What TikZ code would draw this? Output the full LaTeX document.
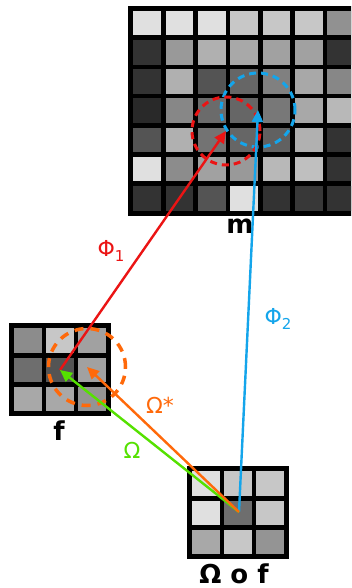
\documentclass[tikz,border=0pt]{standalone}
\usepackage{fontspec}
\setmainfont{DejaVu Sans}
\usetikzlibrary{arrows.meta}
\definecolor{cred}{RGB}{235,20,20}
\definecolor{cblue}{RGB}{20,165,235}
\definecolor{corange}{RGB}{255,105,10}
\definecolor{cgreen}{RGB}{85,225,0}
\newcommand\mygrid[5]{% #1 x0, #2 y0, #3 ncols, #4 nrows, #5 rows of whiteness
  \fill[black] (#1-2.6,#2-2.6) rectangle (#1+32.3*#3+2.6,#2+29.2*#4+2.6);
  \foreach \rw [count=\r from 0] in {#5} {
    \foreach \g [count=\c from 0] in \rw {
      \fill[white!\g!black] (#1+32.3*\c+2.3,#2+29.2*\r+2.3) rectangle ++(27.7,24.6);
    }
  }
}
\tikzset{
  conn/.style={line width=2.4pt,-{Triangle[length=12pt,width=11pt]}},
  dcirc/.style={circle,draw,line width=3pt,dash pattern=on 7pt off 5pt,inner sep=0pt},
  lbl/.style={font=\fontsize{22}{22}\selectfont,inner sep=0pt,anchor=base},
  glbl/.style={font=\fontsize{26}{26}\selectfont\bfseries,inner sep=0pt,anchor=base},
}
\begin{document}
\begin{tikzpicture}[x=1pt,y=-1pt]
\useasboundingbox (0,0) rectangle (351,588);
\fill[white] (0,0) rectangle (351,588);
\begin{scope}
\clip (0,0) rectangle (351,588);
% big grid m
\mygrid{131}{8.5}{7}{7}{{88,88,88,78,78,78,57},{20,60,69,66,63,63,20},{20,69,33,40,50,66,53},{16,53,42,40,47,66,72},{33,69,45,40,38,69,20},{88,55,63,60,72,75,20},{20,20,33,88,20,22,20}}
\end{scope}
% grid f
\mygrid{11.5}{326}{3}{3}{{55,78,63},{43,33,63},{66,66,58}}
% grid Omega o f
\mygrid{189.5}{469}{3}{3}{{88,78,78},{88,43,78},{66,78,58}}

% labels
\node[glbl] (lm) at (240,233) {m};
\node[glbl] (lf) at (59,440) {f};
\node[glbl] (lof) at (234,583) {Ω o f};

% anchor points
\coordinate (F) at (60,370);
\coordinate (OF) at (239,512);

% circles
\node[dcirc,draw=cblue,minimum size=74pt] (bc) at (258,110) {};
\node[dcirc,draw=cred,minimum size=68pt] (rc) at (226,131) {};
\node[dcirc,draw=corange,minimum size=77pt,dash pattern=on 9pt off 7pt,line width=3.5pt] (oc) at (87,367) {};

% connectors
\draw[conn,cblue] (OF) -- (bc.center);
\draw[conn,cred] (F) -- (rc.center);
\draw[conn,cgreen] (OF) -- (F);
\draw[conn,corange] (OF) -- (oc.center);

% connector labels
\node[lbl,text=cred] (p1) at (111,256) {Φ\raisebox{-0.25em}{\fontsize{15}{15}\selectfont 1}};
\node[lbl,text=cblue] (p2) at (278,324) {Φ\raisebox{-0.25em}{\fontsize{15}{15}\selectfont 2}};
\node[lbl,text=corange] (os) at (160,413) {Ω*};
\node[lbl,text=cgreen] (om) at (132,458) {Ω};
\end{tikzpicture}
\end{document}
